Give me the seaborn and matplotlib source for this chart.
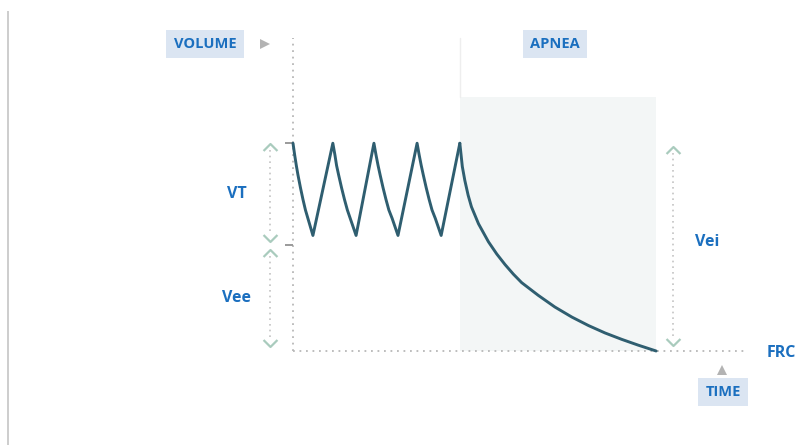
import numpy as np
import pandas as pd
import matplotlib
matplotlib.use("Agg")
import matplotlib.pyplot as plt
from matplotlib.path import Path
import seaborn as sns

# ---------------- data ----------------
# breathing phase: time (s) and volume (relative units, FRC = 0)
breath_time = [0.00, 0.04, 0.08, 0.12, 0.18, 0.24, 0.30, 0.36, 0.42, 0.48,
               0.96, 1.01, 1.05, 1.10, 1.17, 1.24, 1.31, 1.38, 1.45, 1.52,
               1.95, 2.00, 2.05, 2.10, 2.17, 2.24, 2.31, 2.39, 2.46, 2.53,
               2.99, 3.04, 3.09, 3.14, 3.21, 3.28, 3.35, 3.43, 3.50, 3.57,
               4.02]
breath_volume = [1.96, 1.85, 1.75, 1.66, 1.54, 1.43, 1.33, 1.25, 1.17, 1.09,
                 1.96, 1.85, 1.75, 1.66, 1.54, 1.43, 1.33, 1.25, 1.17, 1.09,
                 1.96, 1.85, 1.75, 1.66, 1.54, 1.43, 1.33, 1.25, 1.17, 1.09,
                 1.96, 1.85, 1.75, 1.66, 1.54, 1.43, 1.33, 1.25, 1.17, 1.09,
                 1.96]
# apnea phase: passive exhalation down to FRC
apnea_time = [4.02, 4.08, 4.14, 4.22, 4.30, 4.47, 4.71, 4.91, 5.11, 5.31,
              5.51, 5.91, 6.31, 6.72, 7.12, 7.52, 7.92, 8.32, 8.75]
apnea_volume = [1.96, 1.74, 1.61, 1.47, 1.36, 1.20, 1.03, 0.915, 0.815, 0.725,
                0.645, 0.525, 0.415, 0.32, 0.24, 0.17, 0.11, 0.055, 0.0]

vt_top, vee_level, frc_level = 1.96, 1.00, 0.0
apnea_start, apnea_end, apnea_top = 4.02, 8.75, 2.40
axis_top, axis_right = 2.95, 10.9

labels = {"volume": "VOLUME", "apnea": "APNEA", "vt": "VT", "vee": "Vee",
          "vei": "Vei", "frc": "FRC", "time": "TIME"}

# ---------------- styling ----------------
sns.set_theme(style="white")
plt.rcParams['font.family'] = ['Open Sans', 'DejaVu Sans']

W, H = 798, 445
X0, Y0 = 293, 351          # pixel position of origin (t=0, FRC)
SX, SY = 41.5, 106.0       # pixels per unit


def tx(px):
    return (px - X0) / SX


def vy(py):
    return (Y0 - py) / SY


fig = plt.figure(figsize=(W / 100, H / 100), dpi=100)
ax = fig.add_axes([0, 0, 1, 1])

curve_col = "#2f5e70"
dot_col = "#b8b8b8"
chev_col = "#a9cbbd"
txt_col = "#1b6fbf"
box_col = "#dbe5f2"

# left border line
ax.plot([tx(8.5), tx(8.5)], [vy(11), vy(445)], color="#c9c9c9", lw=1.3,
        solid_capstyle="butt")

# apnea shaded region + faint separator
ax.fill_between([apnea_start, apnea_end], frc_level, apnea_top,
                color="#f3f6f6", lw=0, zorder=0)
ax.plot([apnea_start, apnea_start], [apnea_top, axis_top], color="#eeeeee", lw=1.0,
        zorder=0)

# dotted axes
dots = (0, (1, 2.6))
ax.plot([0, 0], [frc_level, axis_top], color=dot_col, lw=1.3, ls=dots)
ax.plot([0, axis_right], [frc_level, frc_level], color=dot_col, lw=1.3, ls=dots)

# small ticks at VT top and Vee level
for lvl in (vt_top, vee_level):
    ax.plot([tx(285), 0], [lvl, lvl], color="#9a9a9a", lw=1.4,
            solid_capstyle="butt")

# curves
df_b = pd.DataFrame({"t": breath_time, "v": breath_volume})
df_a = pd.DataFrame({"t": apnea_time, "v": apnea_volume})
sns.lineplot(data=df_b, x="t", y="v", ax=ax, color=curve_col, lw=2.1,
             sort=False, estimator=None)
sns.lineplot(data=df_a, x="t", y="v", ax=ax, color=curve_col, lw=2.1,
             sort=False, estimator=None)
for ln in ax.lines[-2:]:
    ln.set_solid_joinstyle("round")
    ln.set_solid_capstyle("round")

# double arrows (dotted with chevrons)
up = Path([(-1, -0.5), (0, 0.5), (1, -0.5)])
down = Path([(-1, 0.5), (0, -0.5), (1, 0.5)])


def dbl_arrow(xpx, ytop_px, ybot_px):
    x = tx(xpx)
    ax.plot([x, x], [vy(ytop_px + 3), vy(ybot_px - 3)], color="#c4c4c4",
            lw=1.2, ls=(0, (1, 2.4)))
    ax.plot([x], [vy(ytop_px)], marker=up, ms=10, mew=1.6,
            mec=chev_col, mfc="none", ls="none")
    ax.plot([x], [vy(ybot_px)], marker=down, ms=10, mew=1.6,
            mec=chev_col, mfc="none", ls="none")


dbl_arrow(270, 147, 238)
dbl_arrow(270, 253, 343)
dbl_arrow(673, 150, 342)

tkw = dict(color=txt_col, fontweight="bold", fontsize=10.5, ha="center",
           va="center")
bbox = dict(boxstyle="square,pad=0.5", fc=box_col, ec="none")
ax.text(tx(205), vy(44), labels["volume"], bbox=bbox, **tkw)
ax.text(tx(555), vy(44), labels["apnea"], bbox=bbox, **tkw)
ax.text(tx(723), vy(392), labels["time"], bbox=bbox, **tkw)
ax.text(tx(237), vy(194), labels["vt"], **{**tkw, "fontsize": 11.5})
ax.text(tx(237), vy(298), labels["vee"], **{**tkw, "fontsize": 11.5})
ax.text(tx(707), vy(242), labels["vei"], **{**tkw, "fontsize": 11.5})
ax.text(tx(767), vy(353), labels["frc"], **{**tkw, "ha": "left", "fontsize": 11.5})

# gray pointer triangles
ax.plot([tx(265)], [vy(44)], marker=">", ms=7, color="#b3b3b3", mew=0)
ax.plot([tx(722)], [vy(370)], marker="^", ms=7, color="#b3b3b3", mew=0)

ax.set_xlim(tx(0), tx(W))
ax.set_ylim(vy(H), vy(0))
ax.axis("off")

fig.savefig("out.png", dpi=100, facecolor="white")
